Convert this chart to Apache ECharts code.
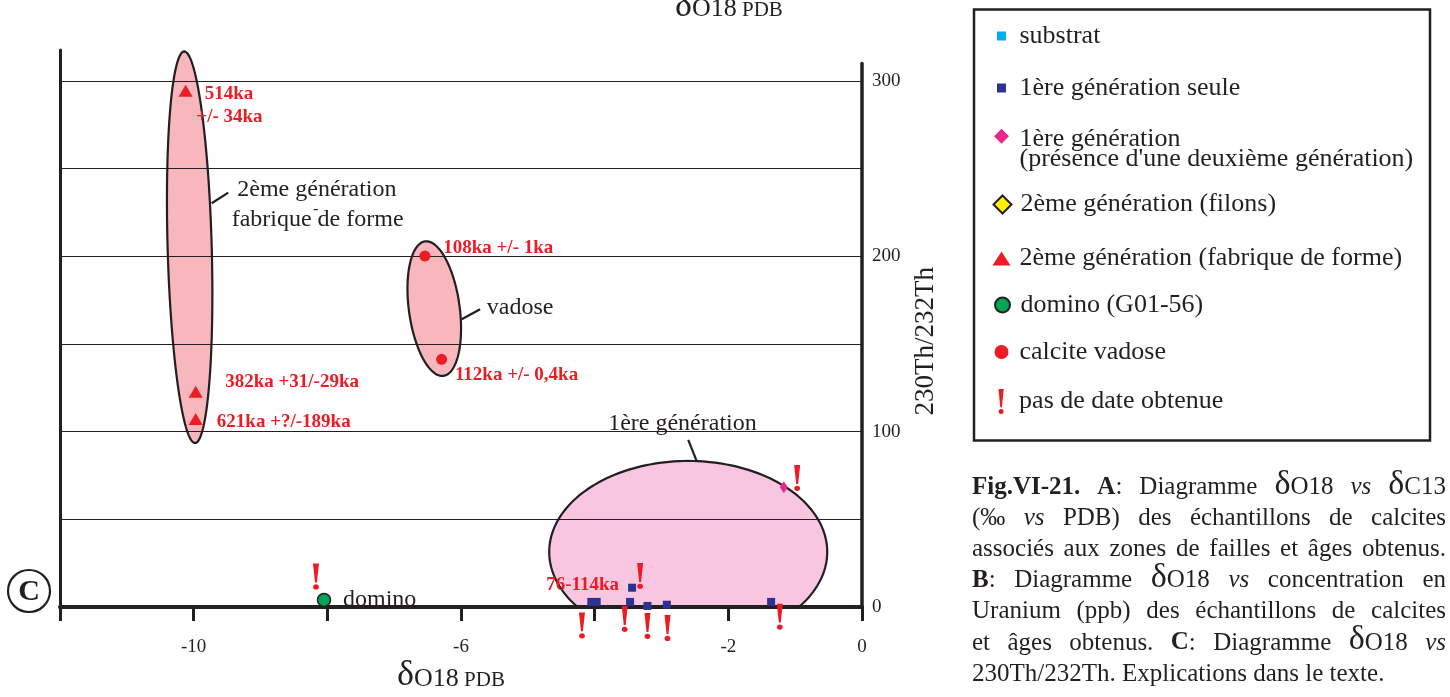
<!DOCTYPE html>
<html>
<head>
<meta charset="utf-8">
<title>δO18 vs 230Th/232Th</title>
<script src="https://cdn.jsdelivr.net/npm/echarts@6.0.0/dist/echarts.min.js"></script>
<style>
html,body{margin:0;padding:0;background:#ffffff;}
#chart{width:1450px;height:697px;}
</style>
</head>
<body>
<div id="chart"></div>
<script>
// ================= DATA =================
const xLabelTicks = [-10, -6, -2, 0];
const yLabelTicks = [0, 100, 200, 300];

const substrat = [];
const gen1Seule = [[-4.05, 2.9], [-3.97, 2.9], [-3.47, 2.9], [-3.44, 11.0], [-3.21, 0.6], [-2.92, 1.3], [-1.36, 2.9]];
const gen1SeuleAges = ['', '', '', '76-114ka', '', '', ''];
const gen1Presence = [[-1.17, 68.3]];
const gen2Filons = [];
const gen2Fabrique = [[-10.12, 294.4], [-9.97, 122.8], [-9.97, 107.3]];
const gen2FabriqueAges = ['514ka\n+/- 34ka', '382ka +31/-29ka', '621ka +?/-189ka'];
const domino = [[-8.05, 4.0]];
const dominoNames = ['domino'];
const vadose = [[-6.54, 200.2], [-6.29, 141.3]];
const vadoseAges = ['108ka +/- 1ka', '112ka +/- 0,4ka'];
const noDate = [[-0.97, 73.6], [-3.32, 17.7], [-4.19, -10.5], [-3.55, -6.8], [-3.21, -10.8], [-2.91, -12.0], [-1.23, -5.5], [-8.17, 17.4]];

// group envelopes: centre (δO18, ratio) and half axes (δO18 units, ratio units)
const envelopeNames = ['2ème génération\nfabrique de forme', 'vadose', '1ère génération'];
const envelopeCenters = [[-10.06, 205.2], [-6.40, 170.2], [-2.60, 31.4]];
const envelopeHalfAxes = [[0.33, 111.7], [0.38, 38.7], [2.08, 51.9]];

const captionLines = [
  [[['Fig.VI-21.', 'b']], [['A', 'b'], [':', 'r']], [['Diagramme', 'r']], [['δ', 'd'], ['O18', 'r']], [['vs', 'i']], [['δ', 'd'], ['C13', 'r']]],
  [[['(‰', 'r']], [['vs', 'i']], [['PDB)', 'r']], [['des', 'r']], [['échantillons', 'r']], [['de', 'r']], [['calcites', 'r']]],
  'associés aux zones de failles et âges obtenus.',
  [[['B', 'b'], [':', 'r']], [['Diagramme', 'r']], [['δ', 'd'], ['O18', 'r']], [['vs', 'i']], [['concentration', 'r']], [['en', 'r']]],
  'Uranium (ppb) des échantillons de calcites',
  [[['et', 'r']], [['âges', 'r']], [['obtenus.', 'r']], [['C', 'b'], [':', 'r']], [['Diagramme', 'r']], [['δ', 'd'], ['O18', 'r']], [['vs', 'i']]],
  '230Th/232Th. Explications dans le texte.'
];

// ================= STYLE =================
const INK = '#231f20', RED = '#ed1c24';
const SERIF = '"Liberation Serif", "Times New Roman", serif';
const EXCL = 'path://M0.5,0 L5.5,0 L3.8,17.5 L2.2,17.5 Z M0.6,21.6 A2.4,2.4 0 1 0 5.4,21.6 A2.4,2.4 0 1 0 0.6,21.6 Z';
// diamond drawn in the upper part of a tall icon box (aligns with first text line)
const DIAMOND_TOP = 'path://M7.5,0 L15,7.5 L7.5,15 L0,7.5 Z M7.5,40.95 L7.5,41 L7.49,41 Z';

const NAMES = {
  substrat: 'substrat',
  seule: '1ère génération seule',
  presence: "1ère génération\n(présence d'une deuxième génération)",
  filons: '2ème génération (filons)',
  fabrique: '2ème génération (fabrique de forme)',
  domino: 'domino (G01-56)',
  vadose: 'calcite vadose',
  nodate: 'pas de date obtenue'
};

// pixel offsets of labels relative to their point
const fabriqueLabelOffsets = [[10.7, 14.5], [29.5, -9.2], [21.2, 2.9]];
const vadoseLabelOffsets = [[18.3, -7.7], [13.3, 15.7]];

function ageLabel(text, off, align, color, weight, size) {
  if (!text) return { show: false };
  const lines = text.split('\n');
  const base = {
    show: true, position: 'inside', align: align || 'left', verticalAlign: 'middle', offset: off,
    color: color || RED, opacity: 1, fontFamily: SERIF, fontWeight: weight || 'bold', fontSize: size || 19
  };
  if (lines.length > 1) {
    const tok = { fontFamily: SERIF, fontWeight: 'bold', fontSize: 19, color: RED, lineHeight: 23 };
    base.lineHeight = 23;
    base.rich = { l1: Object.assign({ padding: [0, 0, 0, 8.3] }, tok), l2: Object.assign({}, tok) };
    base.formatter = function () { return '{l1|' + lines[0] + '}\n{l2|' + lines[1] + '}'; };
  } else {
    base.formatter = function () { return text; };
  }
  return base;
}

// decoration of envelopes (pixel offsets relative to envelope centre)
const envelopeDecor = [
  { rot: 1.6, fill: '#f7b7bc', leader: [[22, -44], [38.6, -54.6]], textPos: [[47.6, -57.6, 'left'], [42, -27.3, 'left']], extra: [{ t: '-', x: 126, y: -37 }] },
  { rot: 7.8, fill: '#f7b7bc', leader: [[27.5, 10.7], [45.8, 0.7]], textPos: [[52.5, -0.6, 'left']] },
  { rot: 0, fill: '#f9c6e1', leader: [[8.4, -91], [0, -112]], textPos: [[-5.8, -128.5, 'center']] }
];

function renderEnvelope(params, api) {
  const i = params.dataIndex;
  const c = api.coord([api.value(0), api.value(1)]);
  const s = api.size([api.value(2), api.value(3)]);
  const yFloor = api.coord([api.value(0), 0])[1];   // envelopes stop at the x axis
  const d = envelopeDecor[i];
  const th = d.rot * Math.PI / 180, ct = Math.cos(th), st = Math.sin(th);
  const pts = [];
  for (let k = 0; k < 180; k++) {
    const t = k / 180 * Math.PI * 2;
    const x = s[0] * Math.cos(t), y = s[1] * Math.sin(t);
    pts.push([c[0] + x * ct + y * st, Math.min(yFloor, c[1] - x * st + y * ct)]);
  }
  const children = [
    { type: 'polygon', shape: { points: pts }, style: { fill: d.fill, stroke: INK, lineWidth: 2.2 } },
    { type: 'line', shape: { x1: c[0] + d.leader[0][0], y1: c[1] + d.leader[0][1], x2: c[0] + d.leader[1][0], y2: c[1] + d.leader[1][1] }, style: { stroke: INK, lineWidth: 2.2 } }
  ];
  envelopeNames[i].split('\n').forEach(function (t, k) {
    const p = d.textPos[k];
    children.push({ type: 'text', x: c[0] + p[0], y: c[1] + p[1], style: { text: t, fill: INK, fontFamily: SERIF, fontSize: 24, align: p[2], verticalAlign: 'middle' } });
  });
  (d.extra || []).forEach(function (e) {
    children.push({ type: 'text', x: c[0] + e.x, y: c[1] + e.y, style: { text: e.t, fill: INK, fontFamily: SERIF, fontSize: 16, align: 'center', verticalAlign: 'middle' } });
  });
  return { type: 'group', children: children };
}

// ---- legend (one component per row to reproduce the spacing) ----
// cy = vertical centre of the row's text
const legendSpec = [
  { name: NAMES.substrat, icon: 'rect', w: 9, h: 9, cy: 36, color: '#00aeef' },
  { name: NAMES.seule, icon: 'rect', w: 9, h: 9, cy: 88, color: '#2e3192' },
  { name: NAMES.presence, icon: DIAMOND_TOP, w: 15, h: 41, cy: 146.7, color: '#ec268f', lh: 20 },
  { name: NAMES.filons, icon: 'diamond', w: 18, h: 18, cy: 204.5, color: '#fff200', border: INK, bw: 2 },
  { name: NAMES.fabrique, icon: 'triangle', w: 18, h: 14, cy: 258.5, color: RED },
  { name: NAMES.domino, icon: 'circle', w: 15, h: 15, cy: 305, color: '#00a651', border: INK, bw: 2 },
  { name: NAMES.vadose, icon: 'circle', w: 14, h: 14, cy: 352, color: RED },
  { name: NAMES.nodate, icon: EXCL, w: 6, h: 25, cy: 401.5, color: RED }
];
const legends = legendSpec.map(function (s) {
  const lh = s.lh || 26;
  const n = s.name.split('\n').length;
  const boxH = Math.max(s.h, n * lh);
  return {
    show: true, orient: 'vertical', left: 1001.5 - s.w / 2, top: s.cy - boxH / 2, padding: 0, itemGap: 0,
    itemWidth: s.w, itemHeight: s.h, selectedMode: false,
    data: [{ name: s.name, icon: s.icon, itemStyle: { color: s.color, opacity: 1, borderColor: s.border || s.color, borderWidth: s.bw || 0 } }],
    textStyle: { fontFamily: SERIF, fontSize: 26, color: INK, lineHeight: lh, padding: [0, 0, 0, 13 - s.w / 2] }
  };
});

// ---- caption (justified lines) ----
const capStyle = {
  r: { fontSize: 25, fontWeight: 'normal', fontStyle: 'normal' },
  b: { fontSize: 25, fontWeight: 'bold', fontStyle: 'normal' },
  i: { fontSize: 25, fontWeight: 'normal', fontStyle: 'italic' },
  d: { fontSize: 34, fontWeight: 'normal', fontStyle: 'normal' }
};
const mctx = document.createElement('canvas').getContext('2d');
function measure(t, k) {
  const st = capStyle[k];
  mctx.font = st.fontStyle + ' ' + st.fontWeight + ' ' + st.fontSize + 'px ' + SERIF;
  return mctx.measureText(t).width;
}
const captionElements = [];
const CAP_L = 972, CAP_R = 1446, CAP_BASE = 495, CAP_STEP = 31.1;
captionLines.forEach(function (line, li) {
  const words = typeof line === 'string' ? line.split(' ').map(function (w) { return [[w, 'r']]; }) : line;
  const widths = words.map(function (w) { return w.reduce(function (a, seg) { return a + measure(seg[0], seg[1]); }, 0); });
  const total = widths.reduce(function (a, b) { return a + b; }, 0);
  const last = li === captionLines.length - 1;
  const gap = last ? measure(' ', 'r') : (CAP_R - CAP_L - total) / (words.length - 1);
  let x = CAP_L;
  const base = CAP_BASE + CAP_STEP * li;
  words.forEach(function (w, wi) {
    let sx = x;
    w.forEach(function (seg) {
      const st = capStyle[seg[1]];
      captionElements.push({
        type: 'text', x: sx, y: base + 0.2 * st.fontSize,
        style: { text: seg[0], fill: INK, fontFamily: SERIF, fontSize: st.fontSize, fontWeight: st.fontWeight, fontStyle: st.fontStyle, align: 'left', verticalAlign: 'bottom' }
      });
      sx += measure(seg[0], seg[1]);
    });
    x += widths[wi] + gap;
  });
});

// top (cropped) axis title of the upper panel
const topTitleSegs = [['δ', 36], ['O18', 26], [' PDB', 21]];
const topTitleElements = [];
(function () {
  let x = 675;
  topTitleSegs.forEach(function (s) {
    mctx.font = 'normal normal ' + s[1] + 'px ' + SERIF;
    topTitleElements.push({ type: 'text', x: x, y: 17 + 0.2 * s[1], style: { text: s[0], fill: INK, fontFamily: SERIF, fontSize: s[1], align: 'left', verticalAlign: 'bottom' } });
    x += mctx.measureText(s[0]).width;
  });
})();

const chart = echarts.init(document.getElementById('chart'), null, { renderer: 'canvas' });
chart.setOption({
  animation: false,
  backgroundColor: '#ffffff',
  grid: [
    { left: 60, right: 588, top: 63.5, bottom: 90, containLabel: false, outerBoundsMode: 'none' },
    // frame for the taller left border line
    { left: 60, width: 1, top: 50, bottom: 90, containLabel: false, outerBoundsMode: 'none' }
  ],
  xAxis: [
    {
      type: 'value', min: -12, max: 0, interval: 2, position: 'bottom', gridIndex: 0,
      axisLine: { show: true, onZero: false, lineStyle: { color: INK, width: 4 } },
      axisTick: { show: true, inside: false, length: 14, lineStyle: { color: INK, width: 3 } },
      axisLabel: {
        show: true, margin: 31, color: INK, fontFamily: SERIF, fontSize: 19,
        formatter: function (v) { return xLabelTicks.indexOf(v) >= 0 ? String(v) : ''; }
      },
      splitLine: { show: false },
      name: '{d|δ}{o|O18}{p| PDB}', nameLocation: 'middle', nameGap: 51, nameMoveOverlap: false,
      nameTextStyle: {
        color: INK, fontFamily: SERIF, padding: [0, 20, 0, 0],
        rich: {
          d: { fontSize: 36, fontFamily: SERIF, color: INK, verticalAlign: 'bottom', lineHeight: 36 },
          o: { fontSize: 26, fontFamily: SERIF, color: INK, verticalAlign: 'bottom', padding: [0, 0, 2, 0] },
          p: { fontSize: 21, fontFamily: SERIF, color: INK, verticalAlign: 'bottom', padding: [0, 0, 3, 0] }
        }
      }
    },
    { type: 'value', gridIndex: 1, show: false, min: 0, max: 1 }
  ],
  yAxis: [
    {
      type: 'value', min: 0, max: 310, interval: 50, position: 'right', gridIndex: 0,
      axisLine: { show: true, onZero: false, lineStyle: { color: INK, width: 3.5 } },
      axisTick: { show: false },
      axisLabel: {
        show: true, margin: 10, color: INK, fontFamily: SERIF, fontSize: 19,
        formatter: function (v) { return yLabelTicks.indexOf(v) >= 0 ? String(v) : ''; }
      },
      splitLine: { show: true, showMinLine: false, showMaxLine: false, lineStyle: { color: INK, width: 1 } },
      name: '230Th/232Th', nameLocation: 'middle', nameRotate: 90, nameGap: 50, nameMoveOverlap: false,
      nameTextStyle: { color: INK, fontFamily: SERIF, fontSize: 27, padding: [0, 12, 0, 0] }
    },
    {
      type: 'value', gridIndex: 1, min: 0, max: 1, position: 'left',
      axisLine: { show: true, onZero: false, lineStyle: { color: INK, width: 3 } },
      axisTick: { show: false }, axisLabel: { show: false }, splitLine: { show: false }
    }
  ],
  legend: legends,
  graphic: {
    elements: [
      { type: 'rect', shape: { x: 974, y: 9.5, width: 456, height: 431 }, style: { fill: 'none', stroke: INK, lineWidth: 2.5 } },
      { type: 'circle', shape: { cx: 29, cy: 591, r: 21 }, style: { fill: 'none', stroke: INK, lineWidth: 2.2 } },
      { type: 'text', x: 29, y: 592, style: { text: 'C', fill: INK, fontFamily: SERIF, fontSize: 30, fontWeight: 'bold', align: 'center', verticalAlign: 'middle' } }
    ].concat(captionElements, topTitleElements)
  },
  series: [
    {
      type: 'custom', name: 'enveloppes', renderItem: renderEnvelope, clip: false, z: -1, silent: true,
      encode: { x: 0, y: 1 },
      data: envelopeCenters.map(function (c, i) { return [c[0], c[1], envelopeHalfAxes[i][0], envelopeHalfAxes[i][1]]; })
    },
    { type: 'scatter', name: NAMES.substrat, data: substrat, symbol: 'rect', symbolSize: 8, itemStyle: { color: '#00aeef', opacity: 1 } },
    {
      type: 'scatter', name: NAMES.seule, symbol: 'rect', symbolSize: 8, itemStyle: { color: '#2e3192', opacity: 1 },
      data: gen1Seule.map(function (v, i) { return { value: v, label: ageLabel(gen1SeuleAges[i], [-13, -2.7], 'right') }; })
    },
    { type: 'scatter', name: NAMES.presence, data: gen1Presence, symbol: 'diamond', symbolSize: [8, 12], itemStyle: { color: '#ec268f', opacity: 1 } },
    { type: 'scatter', name: NAMES.filons, data: gen2Filons, symbol: 'diamond', symbolSize: 12, itemStyle: { color: '#fff200', borderColor: INK, borderWidth: 2, opacity: 1 } },
    {
      type: 'scatter', name: NAMES.fabrique, symbol: 'triangle', symbolSize: [14, 12], itemStyle: { color: RED, opacity: 1 },
      data: gen2Fabrique.map(function (v, i) { return { value: v, label: ageLabel(gen2FabriqueAges[i], fabriqueLabelOffsets[i], 'left') }; })
    },
    {
      type: 'scatter', name: NAMES.domino, symbol: 'circle', symbolSize: 13, itemStyle: { color: '#00a651', borderColor: INK, borderWidth: 1.5, opacity: 1 },
      data: domino.map(function (v, i) { return { value: v, label: ageLabel(dominoNames[i], [19, 0], 'left', INK, 'normal', 24) }; })
    },
    {
      type: 'scatter', name: NAMES.vadose, symbol: 'circle', symbolSize: 11, itemStyle: { color: RED, opacity: 1 },
      data: vadose.map(function (v, i) { return { value: v, label: ageLabel(vadoseAges[i], vadoseLabelOffsets[i], 'left') }; })
    },
    { type: 'scatter', name: NAMES.nodate, data: noDate, symbol: EXCL, symbolSize: [6, 26], itemStyle: { color: RED, opacity: 1 }, clip: false, z: 4 }
  ]
});
</script>
</body>
</html>
